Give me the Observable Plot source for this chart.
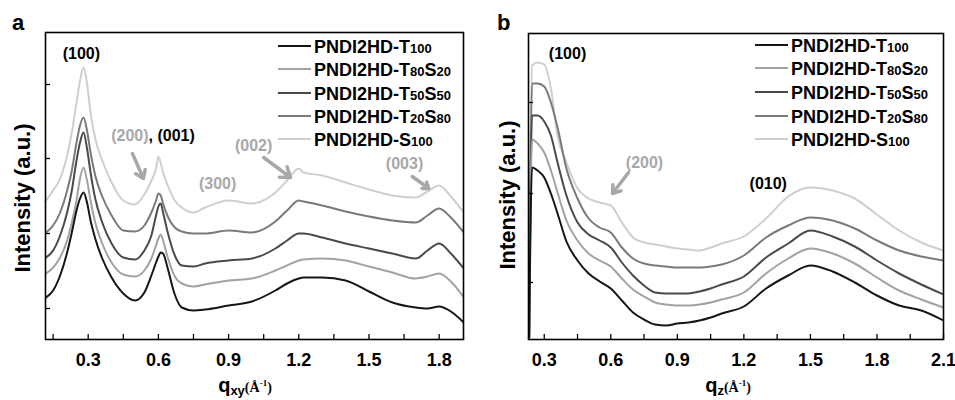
<!DOCTYPE html>
<html><head><meta charset="utf-8">
<script src="https://cdn.jsdelivr.net/npm/d3@7"></script>
<script src="https://cdn.jsdelivr.net/npm/@observablehq/plot@0.6"></script>
<style>
html,body{margin:0;padding:0;background:#fff;}
#wrap{display:flex;width:955px;height:400px;font-family:'Liberation Sans',Arial,sans-serif;}
svg{display:block;}
</style></head><body><div id="wrap"></div>
<script>
// ---------- data ----------
const seriesNames = ["PNDI2HD-T100","PNDI2HD-T80S20","PNDI2HD-T50S50","PNDI2HD-T20S80","PNDI2HD-S100"];

// panel a : q_xy
const qA = [0.12,0.15,0.18,0.21,0.23,0.25,0.265,0.28,0.295,0.31,0.33,0.36,0.40,0.45,0.50,0.54,0.57,0.59,0.60,0.61,0.62,0.64,0.67,0.70,0.75,0.80,0.90,1.00,1.10,1.15,1.20,1.22,1.30,1.40,1.50,1.60,1.70,1.75,1.80,1.85,1.905];
const a_T100   = [43,50,65,88,108,130,142,148,138,120,102,82,63,47,40,48,65,78,84,88,87,72,46,33,30,31,35,39,50,57,62,63,63,60,49,38,33,32,34,29,18];
const a_T80S20 = [67,73,83,100,118,140,162,173,160,140,118,97,78,66,64,70,82,95,102,106,100,83,64,57,54,56,60,62,70,75,80,81,82,80,74,68,62,64,67,59,43];
const a_T50S50 = [83,90,105,128,150,180,198,208,192,168,142,118,97,83,81,90,105,125,134,137,128,108,85,75,74,77,80,82,92,100,107,107,103,97,92,87,82,90,97,87,72];
const a_T20S80 = [108,115,128,150,170,198,215,223,210,188,165,144,125,110,109,115,128,140,147,145,137,124,113,109,107,107,110,108,119,130,140,139,135,129,124,120,118,125,132,123,108];
const a_S100   = [140,150,162,185,208,238,260,273,257,228,202,180,158,140,136,146,160,172,184,177,168,155,140,133,128,133,140,137,148,160,172,168,165,158,151,145,143,149,155,144,128];

// panel b : q_z
const qB = [0.232,0.245,0.27,0.30,0.33,0.36,0.40,0.45,0.50,0.55,0.60,0.65,0.70,0.75,0.80,0.85,0.90,0.95,1.00,1.05,1.10,1.20,1.30,1.40,1.50,1.60,1.70,1.80,1.90,2.00,2.10];
const b_T100   = [3,173,170,163,147,127,99,80,67,59,52,40,28,21,16,15,17,18,20,23,27,34,52,65,75,69,58,45,35,30,20];
const b_T80S20 = [3,201,197,188,170,148,120,100,87,80,74,62,51,44,38,36,35,35,36,38,41,48,67,82,92,87,77,63,50,41,33];
const b_T50S50 = [3,225,225,219,205,178,145,118,106,100,93,78,65,55,48,47,47,47,49,52,56,64,83,97,110,104,94,80,67,56,46];
const b_T20S80 = [3,257,257,254,238,213,172,142,122,113,108,93,82,77,75,74,73,73,73,74,76,85,103,115,123,120,112,100,90,84,80];
const b_S100   = [3,275,278,276,252,205,178,152,142,138,135,118,103,98,96,94,92,91,90,93,97,104,122,144,153,150,142,126,110,98,90];

// ticks
const xTicksA = [0.15,0.3,0.45,0.6,0.75,0.9,1.05,1.2,1.35,1.5,1.65,1.8];
const xMajorA = [0.3,0.6,0.9,1.2,1.5,1.8];
const xLabelsA = ["0.3","0.6","0.9","1.2","1.5","1.8"];
const xTicksB = [0.3,0.45,0.6,0.75,0.9,1.05,1.2,1.35,1.5,1.65,1.8,1.95,2.1];
const xMajorB = [0.3,0.6,0.9,1.2,1.5,1.8,2.1];
const xLabelsB = ["0.3","0.6","0.9","1.2","1.5","1.8","2.1"];
const yTicksA = [32,107,182,256];
const yTicksB = [58,147,238];

// annotations (peak labels)
const annA_mid = {label:["(100)","(300)","(002)","(003)"], q:[0.271,0.853,1.007,1.652], I:[287,157,195,177], gray:[false,true,true,true]};
const annA_200 = {label:["(200)"], q:[0.558], I:[205]};
const annA_001 = {label:[", (001)"], q:[0.558], I:[205]};
const arrowsA = {q1:[0.489,1.05,1.685], I1:[187,183,164], q2:[0.536,1.165,1.756], I2:[162,163,152]};
const annB = {label:["(100)","(200)","(010)"], q:[0.405,0.752,1.31], I:[287,178,157], gray:[false,true,false]};
const arrowsB = {q1:[0.68], I1:[168], q2:[0.608], I2:[147]};

// ---------- styles ----------
const colors = ["#161616","#a2a2a2","#4a4a4a","#7a7a7a","#cfcfcf"];
const annGray = "#a8a8a8";
const FONT = "'Liberation Sans', Arial, sans-serif";

function rows(q, arrs) {
  const out = [];
  arrs.forEach((arr, s) => arr.forEach((v, i) => out.push({q: q[i], I: v, s})));
  return out;
}
function toRows(o) { return o.label.map((l,i)=>({label:l,q:o.q[i],I:o.I[i],gray:o.gray?o.gray[i]:false})); }
function arrowRows(o) { return o.q1.map((_,i)=>({q1:o.q1[i],I1:o.I1[i],q2:o.q2[i],I2:o.I2[i]})); }

function makePanel(cfg) {
  const data = rows(cfg.q, cfg.series);
  const drawOrder = [4,3,2,1,0];
  const lineMarks = drawOrder.map(s => Plot.line(data.filter(d=>d.s===s), {x:"q", y:"I", stroke: colors[s], strokeWidth: 2, curve: "monotone-x", clip: true}));
  const fmt = d => { const i = cfg.major.findIndex(m => Math.abs(m-d) < 1e-9); return i >= 0 ? cfg.labels[i] : ""; };
  const svg = Plot.plot({
    width: cfg.width, height: 400,
    marginLeft: cfg.ml, marginRight: cfg.mr, marginTop: cfg.mt, marginBottom: 400 - 339,
    x: {domain: cfg.xdom},
    y: {domain: cfg.ydom},
    style: {fontFamily: FONT, fontWeight: "bold", background: "#fff", color: "#000", overflow: "visible"},
    marks: [
      ...lineMarks,
      Plot.axisX({ticks: cfg.xticks, tickSize: -5, tickPadding: 19, tickFormat: fmt, label: null, fontSize: 18, fontWeight: "bold", strokeWidth: 1.3}),
      Plot.axisY({ticks: cfg.yticks, tickSize: -5, tickFormat: () => "", label: null, strokeWidth: 1.3}),
      ...cfg.extraMarks,
      Plot.frame({stroke: "#000", strokeWidth: 1.6})
    ]
  });
  const g = d3.select(svg);
  // panel letter
  g.append("text").attr("x", cfg.letterX).attr("y", 30).attr("text-anchor","start").attr("font-size", 22).attr("font-weight", "bold").attr("font-family", FONT).text(cfg.letter);
  // y title
  g.append("text").attr("transform", `translate(${cfg.ylabX},${cfg.ylabY}) rotate(-90)`).attr("text-anchor","middle").attr("dominant-baseline","central")
    .attr("font-size", 22).attr("font-weight","bold").attr("font-family", FONT).text("Intensity (a.u.)");
  // x title
  const t = g.append("text").attr("x", cfg.xlabX).attr("y", 392).attr("text-anchor","middle").attr("font-weight","bold").attr("font-family", FONT);
  t.append("tspan").attr("font-size", 20).text("q");
  t.append("tspan").attr("font-size", 13).attr("dy", 3).text(cfg.sub);
  t.append("tspan").attr("font-size", 14).attr("dy", -3).attr("font-family","'Liberation Serif', serif").text("(Å");
  t.append("tspan").attr("font-size", 9).attr("dy", -6).attr("font-family","'Liberation Serif', serif").text("-1");
  t.append("tspan").attr("font-size", 14).attr("dy", 6).attr("font-family","'Liberation Serif', serif").text(")");
  // legend
  const lg = g.append("g").attr("text-anchor","start");
  seriesNames.forEach((name, i) => {
    const y = cfg.legendY[i];
    lg.append("line").attr("x1", cfg.legendX).attr("x2", cfg.legendX + 33).attr("y1", y).attr("y2", y).attr("stroke", colors[i]).attr("stroke-width", 2.2);
    const tx = lg.append("text").attr("x", cfg.legendX + 36).attr("y", y + 6.5).attr("text-anchor","start").attr("font-size", 18).attr("font-weight","bold").attr("font-family", FONT);
    const prefix = "PNDI2HD-";
    tx.append("tspan").text(prefix);
    name.slice(prefix.length).match(/[A-Z]+|\d+/g).forEach(p => tx.append("tspan").attr("font-size", /\d/.test(p) ? 13 : 18).text(p));
  });
  return svg;
}

const arrowOpts = {x1:"q1", y1:"I1", x2:"q2", y2:"I2", stroke: annGray, strokeWidth: 3.5, headLength: 9, headAngle: 70};

const panelA = makePanel({
  width: 477, ml: 45, mr: 14, mt: 32,
  xdom: [0.1175, 1.904], ydom: [1, 308],
  q: qA, series: [a_T100, a_T80S20, a_T50S50, a_T20S80, a_S100],
  xticks: xTicksA, major: xMajorA, labels: xLabelsA, yticks: yTicksA,
  letter: "a", letterX: 12, ylabX: 22, ylabY: 198, xlabX: 245, sub: "xy",
  legendX: 278, legendY: [46, 69, 93, 116, 139],
  extraMarks: [
    Plot.text(toRows(annA_mid), {x:"q", y:"I", text:"label", fill: d => d.gray ? annGray : "#000", fontSize: 16, fontWeight: "bold", textAnchor: "middle"}),
    Plot.text(toRows(annA_200), {x:"q", y:"I", text:"label", fill: annGray, fontSize: 16, fontWeight: "bold", textAnchor: "end"}),
    Plot.text(toRows(annA_001), {x:"q", y:"I", text:"label", fill: "#000", fontSize: 16, fontWeight: "bold", textAnchor: "start"}),
    Plot.arrow(arrowRows(arrowsA), arrowOpts)
  ]
});
const panelB = makePanel({
  width: 478, ml: 51, mr: 12, mt: 33,
  xdom: [0.229, 2.1], ydom: [1, 307],
  q: qB, series: [b_T100, b_T80S20, b_T50S50, b_T20S80, b_S100],
  xticks: xTicksB, major: xMajorB, labels: xLabelsB, yticks: yTicksB,
  letter: "b", letterX: 20, ylabX: 30, ylabY: 195, xlabX: 251, sub: "z",
  legendX: 278, legendY: [45, 68, 92, 116, 139],
  extraMarks: [
    Plot.text(toRows(annB), {x:"q", y:"I", text:"label", fill: d => d.gray ? annGray : "#000", fontSize: 16, fontWeight: "bold", textAnchor: "middle"}),
    Plot.arrow(arrowRows(arrowsB), arrowOpts)
  ]
});
document.getElementById("wrap").append(panelA, panelB);
</script>
</body></html>
